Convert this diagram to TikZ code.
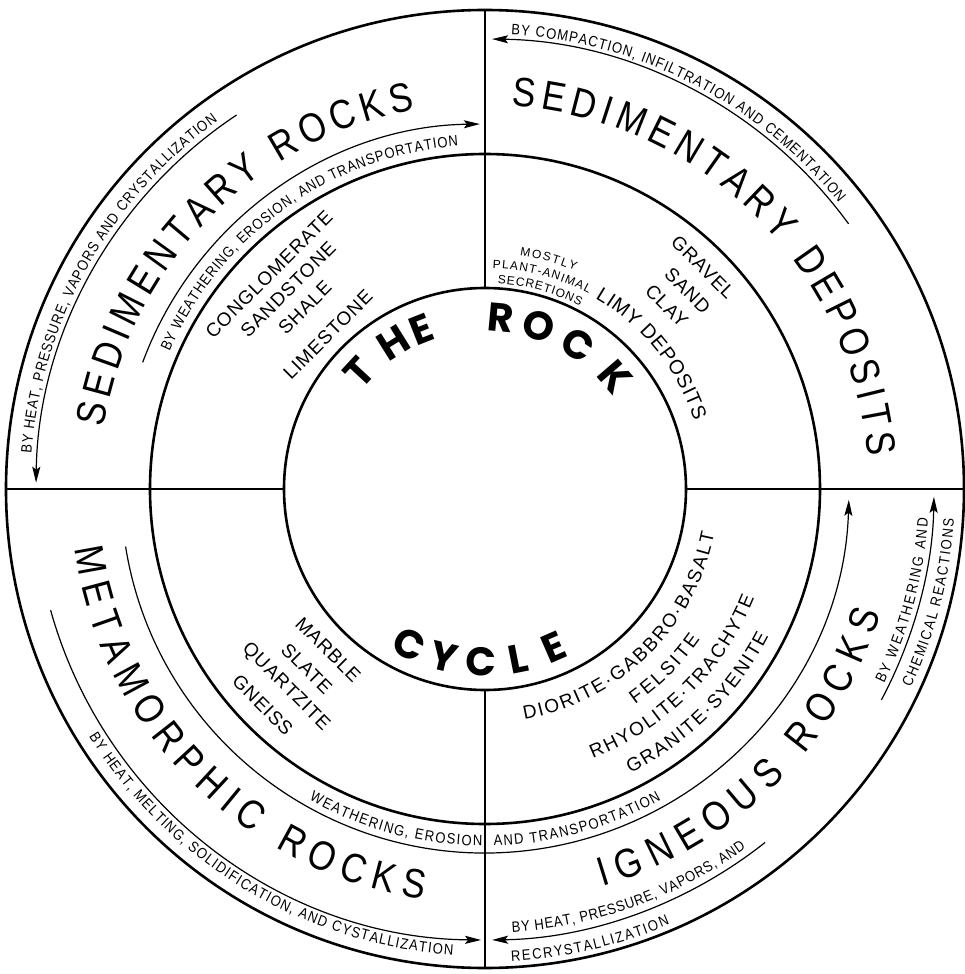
\documentclass[tikz,border=0pt]{standalone}
\usepackage{fontspec}
\setmainfont{Liberation Sans}
\newfontfamily\labfont{Liberation Sans}
\newfontfamily\smallfont{Liberation Sans}[FakeStretch=0.87]
\newfontfamily\listfont{Liberation Sans}[LetterSpace=5]
\newfontfamily\bigfont{Liberation Sans}[FakeStretch=0.85]
\newfontfamily\rockfont{Poppins}
\usetikzlibrary{decorations.text,arrows.meta}
\newcommand\fsm{\smallfont\fontsize{15}{15}\selectfont}
\newcommand\fxs{\labfont\fontsize{12}{12}\selectfont}
\newcommand\fmd{\labfont\fontsize{19}{19}\selectfont}
\newcommand\flist{\listfont\fontsize{19}{19}\selectfont}
\newcommand\flimy{\labfont\fontsize{20}{20}\selectfont}
\newcommand\fbig{\bigfont\fontsize{41}{41}\selectfont}
\newcommand\fbold{\rockfont\bfseries\fontsize{40}{40}\selectfont}
% font, text, baseline radius, start angle, end angle
\newcommand\ArcLabel[5]{%
  \path[decorate,decoration={text along path,text={|#1|#2},text align=fit to path}]
    (#4:#3pt) arc[start angle=#4,end angle=#5,radius=#3pt];}
\tikzset{
  ring/.style={line width=2.6pt},
  divider/.style={line width=1.8pt},
  flow/.style={line width=1.2pt,-{Stealth[length=16pt,width=8pt,inset=3pt]}},
  listtext/.style={font=\flist,inner sep=0pt,anchor=center},
  boldletter/.style={font=\fbold,inner sep=0pt,anchor=center},
}
\begin{document}
\begin{tikzpicture}[x=1pt,y=1pt]
\useasboundingbox (-485,-485) rectangle (479,489);
\fill[white] (-485,-485) rectangle (479,489);
% rings
\draw[ring] (0,0) circle[radius=479pt];
\draw[ring] (0,0) circle[radius=335pt];
\draw[ring] (0,0) circle[radius=201pt];
% dividers
\coordinate (nO) at (90:479pt);  \coordinate (nI) at (90:201pt);
\coordinate (sO) at (270:479pt); \coordinate (sI) at (270:201pt);
\coordinate (wO) at (180:479pt); \coordinate (wI) at (180:201pt);
\coordinate (eO) at (0:479pt);   \coordinate (eI) at (0:201pt);
\draw[divider] (nO) -- (nI);
\draw[divider] (sO) -- (sI);
\draw[divider] (wO) -- (wI);
\draw[divider] (eO) -- (eI);

% ---------- upper left ----------
\draw[flow] (123.6:449pt) arc[start angle=123.6,end angle=179.2,radius=449pt];
\ArcLabel{\fsm}{BY HEAT, PRESSURE, VAPORS AND CRYSTALLIZATION}{455}{175.5}{126}
\ArcLabel{\fbig}{SEDIMENTARY ROCKS}{386}{170.8}{100.5}
\draw[flow] (159.7:365pt) arc[start angle=159.7,end angle=90.8,radius=365pt];
\ArcLabel{\fsm}{BY WEATHERING, EROSION, AND TRANSPORTATION}{344}{156.5}{94.5}
\node[listtext,rotate=45] (congl) at (135.2:304.4pt) {CONGLOMERATE};
\node[listtext,rotate=45] (sands) at (134.6:280.4pt) {SANDSTONE};
\node[listtext,rotate=45] (shale) at (134.8:255.6pt) {SHALE};
\node[listtext,rotate=45] (limes) at (135.5:220.3pt) {LIMESTONE};

% ---------- upper right ----------
\draw[flow] (36.1:450pt) arc[start angle=36.1,end angle=89.1,radius=450pt];
\ArcLabel{\fsm}{BY COMPACTION, INFILTRATION AND CEMENTATION}{455}{86.7}{39}
\ArcLabel{\fbig}{SEDIMENTARY DEPOSITS}{384}{86}{4.8}
\ArcLabel{\flimy}{LIMY DEPOSITS}{220}{60}{18}
\ArcLabel{\fxs}{MOSTLY}{236}{81.5}{67.5}
\ArcLabel{\fxs}{PLANT-ANIMAL}{221}{88}{62}
\ArcLabel{\fxs}{SECRETIONS}{206}{86.5}{62.5}
\node[listtext,rotate=-45] (gravel) at (45.5:311pt) {GRAVEL};
\node[listtext,rotate=-45] (sand) at (44.4:283.6pt) {SAND};
\node[listtext,rotate=-45] (clay) at (45.2:258pt) {CLAY};

% ---------- lower left ----------
\draw[flow] (189.1:364pt) arc[start angle=189.1,end angle=358.3,radius=364pt];
\ArcLabel{\fsm}{WEATHERING, EROSION, AND TRANSPORTATION}{357}{240.5}{299.5}
\draw[flow] (195.6:451pt) arc[start angle=195.6,end angle=269.5,radius=451pt];
\ArcLabel{\fsm}{BY HEAT, MELTING, SOLIDIFICATION, AND CYSTALLIZATION}{467}{212}{266}
\ArcLabel{\fbig}{METAMORPHIC ROCKS}{415}{188.3}{261.4}
\node[listtext,rotate=-45] (marble) at (225.7:224.7pt) {MARBLE};
\node[listtext,rotate=-45] (slate) at (225.2:253pt) {SLATE};
\node[listtext,rotate=-45] (quartz) at (224.8:281pt) {QUARTZITE};
\node[listtext,rotate=-45] (gneiss) at (224.2:310pt) {GNEISS};

% ---------- lower right ----------
\ArcLabel{\fbig}{IGNEOUS ROCKS}{415}{286.5}{342.5}
\draw[flow] (-28:449pt) arc[start angle=-28,end angle=-1,radius=449pt];
\ArcLabel{\fsm}{BY WEATHERING AND}{444}{-26}{-3.8}
\ArcLabel{\fsm}{CHEMICAL REACTIONS}{470}{-25}{-3.7}
\draw[flow] (308.4:451pt) arc[start angle=308.4,end angle=270.9,radius=451pt];
\ArcLabel{\fsm}{BY HEAT, PRESSURE, VAPORS, AND}{444}{273.5}{306}
\ArcLabel{\fsm}{RECRYSTALLIZATION}{473}{273.2}{293}
\ArcLabel{\fmd}{DIORITE·GABBRO·BASALT}{233.5}{279.7}{349}
\ArcLabel{\fmd}{FELSITE}{262.5}{304.9}{325}
\ArcLabel{\fmd}{RHYOLITE·TRACHYTE}{290.5}{291.8}{338}
\ArcLabel{\fmd}{GRANITE·SYENITE}{319.5}{297.1}{332.6}

% ---------- THE ROCK CYCLE ----------
\node[boldletter,rotate=47.2] (t1) at (137.2:172pt) {T};
\node[boldletter,rotate=32] (t2) at (122:172pt) {H};
\node[boldletter,rotate=21.6] (t3) at (111.6:172pt) {E};
\node[boldletter,rotate=-5.3] (r1) at (84.7:172pt) {R};
\node[boldletter,rotate=-18.1] (r2) at (71.9:172pt) {O};
\node[boldletter,rotate=-32.8] (r3) at (57.2:172pt) {C};
\node[boldletter,rotate=-49.3] (r4) at (40.7:172pt) {K};
\node[boldletter,rotate=-26] (c1) at (244:173pt) {C};
\node[boldletter,rotate=-13.6] (c2) at (256.4:173pt) {Y};
\node[boldletter,rotate=-1.2] (c3) at (268.8:173pt) {C};
\node[boldletter,rotate=11.2] (c4) at (281.2:173pt) {L};
\node[boldletter,rotate=23.6] (c5) at (293.6:173pt) {E};
\end{tikzpicture}
\end{document}
